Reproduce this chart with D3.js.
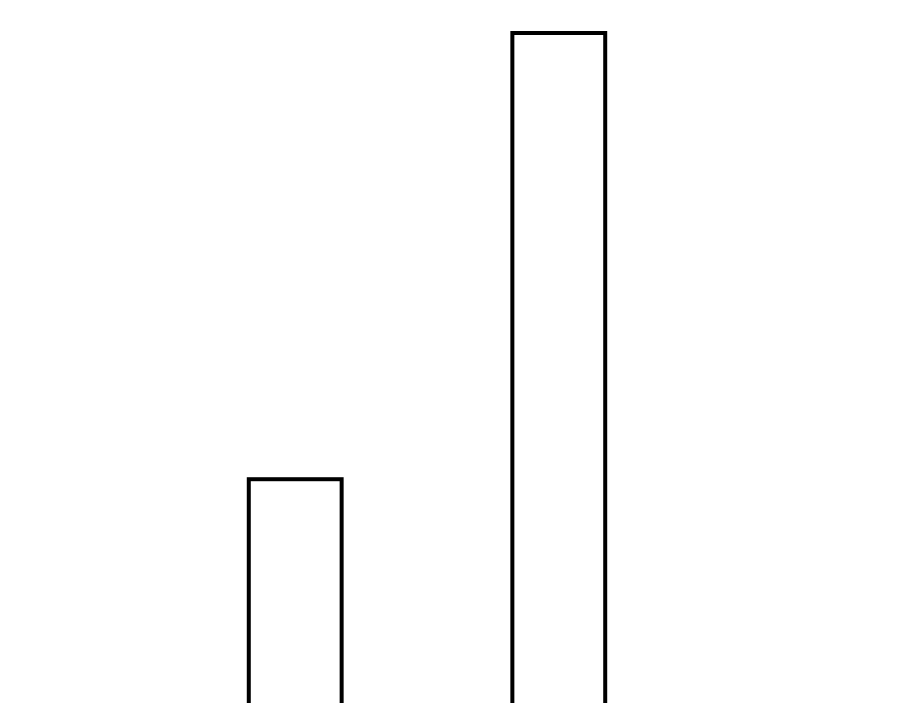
<!DOCTYPE html>
<html>
<head>
<meta charset="utf-8">
<script src="https://cdn.jsdelivr.net/npm/d3@7"></script>
<style>
  body { margin: 0; background: #fff; overflow: hidden; }
  svg { display: block; }
</style>
</head>
<body>
<script>
// two categories, the chart runs past the bottom of the window
const categories = ["A", "B"]
const values = [31.1, 80]

const width = 900
const height = 703

const xScale = d3.scaleBand()
  .domain(categories)
  .range([117, 737])
  .paddingInner(1 - 93 / 264)
  .paddingOuter(0.5)

// baseline sits below the visible area
const yScale = d3.scaleLinear()
  .domain([0, 80])
  .range([763, 33])

const svg = d3.select("body")
  .append("svg")
  .attr("width", width)
  .attr("height", height)

svg.selectAll("rect")
  .data(values)
  .enter()
  .append("rect")
  .attr("x", (d, i) => xScale(categories[i]))
  .attr("y", d => yScale(d))
  .attr("width", xScale.bandwidth())
  .attr("height", d => yScale(0) - yScale(d))
  .attr("fill", "#fff")
  .attr("stroke", "#000")
  .attr("stroke-width", 4)
</script>
</body>
</html>
